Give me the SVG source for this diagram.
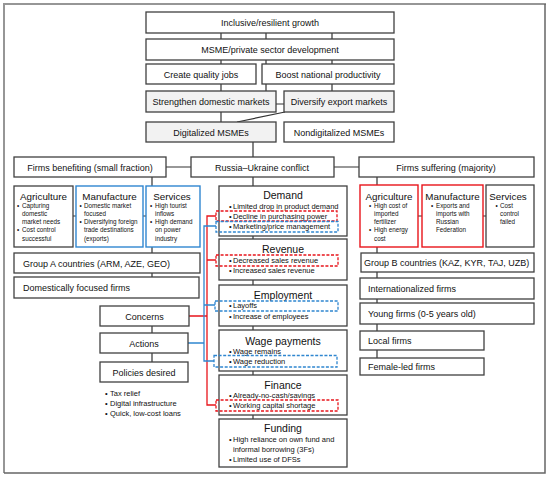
<svg xmlns="http://www.w3.org/2000/svg" width="550" height="477" viewBox="0 0 550 477">
<style>
.b{fill:#fff;stroke:#404040;stroke-width:1.3}
.g{fill:#f2f2f2;stroke:#404040;stroke-width:1.3}
.bl{fill:#fff;stroke:#2f86d0;stroke-width:1.4}
.rd{fill:#fff;stroke:#e8141b;stroke-width:1.4}
.dr{fill:none;stroke:#e8141b;stroke-width:1.3;stroke-dasharray:3 1.6}
.db{fill:none;stroke:#2f86d0;stroke-width:1.3;stroke-dasharray:3 1.6}
text{font-family:"Liberation Sans",Arial,sans-serif;fill:#111}
.t{font-size:9px;text-anchor:middle}
.tl{font-size:9px}
.h{font-size:9.8px;text-anchor:middle}
.hc{font-size:10.5px;text-anchor:middle}
.s{font-size:7.5px}
.xs{font-size:6.3px}
.k{stroke:#333;stroke-width:1.2;fill:none}
.kr{stroke:#e8141b;stroke-width:1.3;fill:none}
.kb{stroke:#2f86d0;stroke-width:1.3;fill:none}
</style>
<path d="M4 473V4H546" fill="none" stroke="#969696" stroke-width="2"/>
<path d="M4 473H545V4" fill="none" stroke="#666" stroke-width="1.5"/>
<g id="connectors">
<path class="k" d="M221 33V39M266 33V39M332 33V39M221 60V64M266 60V64M332 60V64M221 84V91M266 84V91M332 84V91M276 104H284M285 112L237 122M221 112V122M253 142V157M166 167H191M334 167H359"/>
<path class="k" d="M253 177V186M253 236V239M253 280V285M253 326V330M253 371V375M253 415V419"/>
<path class="k" d="M152 177V186M152 247V253M152 273V277M73 216H76M143 216H146"/>
<path class="k" d="M377 177V185M377 247V253M377 272V278M377 299V303M377 324V331M377 350V358M418 216H422M483 216H486"/>
<path class="k" d="M152 326V333M152 353V362"/>
<path class="kr" d="M189 316H207M216 216H207V405H216M207 260H216"/>
<path class="kb" d="M188 343H204M216 226H204V361H214M204 305H215"/>
</g>
<g id="growth"><rect class="b" x="146" y="12" width="248" height="21"/><text class="t" x="270" y="26">Inclusive/resilient growth</text></g>
<g id="msme"><rect class="b" x="146" y="39" width="248" height="21"/><text class="t" x="270" y="53">MSME/private sector development</text></g>
<g id="jobs"><rect class="b" x="146" y="64" width="110" height="20"/><text class="t" x="201" y="77.5">Create quality jobs</text></g>
<g id="productivity"><rect class="b" x="262" y="64" width="132" height="20"/><text class="t" x="328" y="77.5">Boost national productivity</text></g>
<g id="domestic"><rect class="g" x="146" y="91" width="130" height="21"/><text class="t" x="211" y="105">Strengthen domestic markets</text></g>
<g id="export"><rect class="g" x="284" y="91" width="110" height="21"/><text class="t" x="339" y="105">Diversify export markets</text></g>
<g id="digital"><rect class="g" x="146" y="122" width="130" height="20"/><text class="t" x="211" y="135.5">Digitalized MSMEs</text></g>
<g id="nondigital"><rect class="b" x="284" y="122" width="110" height="20"/><text class="t" x="339" y="135.5">Nondigitalized MSMEs</text></g>
<g id="conflict"><rect class="b" x="191" y="157" width="143" height="20"/><text class="t" x="262" y="170.5">Russia–Ukraine conflict</text></g>
<g id="benefiting"><rect class="b" x="14" y="157" width="152" height="20"/><text class="t" x="90" y="170.5">Firms benefiting (small fraction)</text></g>
<g id="suffering"><rect class="b" x="359" y="157" width="175" height="20"/><text class="t" x="446" y="170.5">Firms suffering (majority)</text></g>
<g id="agriA"><rect class="b" x="14" y="186" width="59" height="61"/><text class="h" x="43.5" y="199.5">Agriculture</text>
<text class="xs"><tspan x="17" y="207.5">•</tspan><tspan x="22" y="207.5">Capturing</tspan><tspan x="22" y="215.5">domestic</tspan><tspan x="22" y="224">market needs</tspan><tspan x="17" y="232">•</tspan><tspan x="22" y="232">Cost control</tspan><tspan x="22" y="240.5">successful</tspan></text></g>
<g id="manuA"><rect class="bl" x="76" y="186" width="67" height="61"/><text class="h" x="109.5" y="199.5">Manufacture</text>
<text class="xs"><tspan x="79.5" y="207.5">•</tspan><tspan x="84" y="207.5">Domestic market</tspan><tspan x="84" y="215.5">focused</tspan><tspan x="79.5" y="224">•</tspan><tspan x="84" y="224">Diversifying foreign</tspan><tspan x="84" y="232">trade destinations</tspan><tspan x="84" y="240.5">(exports)</tspan></text></g>
<g id="servA"><rect class="bl" x="146" y="186" width="54" height="61"/><text class="h" x="172" y="199.5">Services</text>
<text class="xs"><tspan x="150" y="207.5">•</tspan><tspan x="155" y="207.5">High tourist</tspan><tspan x="155" y="215.5">inflows</tspan><tspan x="150" y="224">•</tspan><tspan x="155" y="224">High demand</tspan><tspan x="155" y="232">on power</tspan><tspan x="155" y="240.5">industry</tspan></text></g>
<g id="groupA"><rect class="b" x="14" y="253" width="186" height="20"/><text class="tl" x="23" y="266.5">Group A countries (ARM, AZE, GEO)</text></g>
<g id="domfirms"><rect class="b" x="14" y="277" width="185" height="21"/><text class="tl" x="23" y="291">Domestically focused firms</text></g>
<g id="agriB"><rect class="rd" x="360" y="185" width="58" height="62"/><text class="h" x="389" y="199.5">Agriculture</text>
<text class="xs"><tspan x="369" y="207.5">•</tspan><tspan x="374" y="207.5">High cost of</tspan><tspan x="374" y="215.5">imported</tspan><tspan x="374" y="224">fertilizer</tspan><tspan x="369" y="232">•</tspan><tspan x="374" y="232">High energy</tspan><tspan x="374" y="240.5">cost</tspan></text></g>
<g id="manuB"><rect class="rd" x="422" y="185" width="61" height="62"/><text class="h" x="452.5" y="199.5">Manufacture</text>
<text class="xs"><tspan x="431" y="207.5">•</tspan><tspan x="436" y="207.5">Exports and</tspan><tspan x="436" y="215.5">imports with</tspan><tspan x="436" y="224">Russian</tspan><tspan x="436" y="232">Federation</tspan></text></g>
<g id="servB"><rect class="b" x="486" y="185" width="48" height="62"/><text class="h" x="508" y="199.5">Services</text>
<text class="xs"><tspan x="495.5" y="207.5">•</tspan><tspan x="500" y="207.5">Cost</tspan><tspan x="500" y="215.5">control</tspan><tspan x="500" y="224">failed</tspan></text></g>
<g id="groupB"><rect class="b" x="361" y="253" width="173" height="19"/><text class="tl" x="364" y="266">Group B countries (KAZ, KYR, TAJ, UZB)</text></g>
<g id="intl"><rect class="b" x="360" y="278" width="174" height="21"/><text class="tl" x="368" y="292">Internationalized firms</text></g>
<g id="young"><rect class="b" x="360" y="303" width="174" height="21"/><text class="tl" x="368" y="317">Young firms (0-5 years old)</text></g>
<g id="local"><rect class="b" x="360" y="331" width="124" height="19"/><text class="tl" x="368" y="344">Local firms</text></g>
<g id="female"><rect class="b" x="360" y="358" width="124" height="17"/><text class="tl" x="368" y="370">Female-led firms</text></g>
<g id="demand"><rect class="b" x="219" y="186" width="128" height="50"/><text class="hc" x="283" y="199">Demand</text>
<text class="s"><tspan x="229" y="208.5">•</tspan><tspan x="233" y="208.5">Limited drop in product demand</tspan><tspan x="229" y="218.5">•</tspan><tspan x="233" y="218.5">Decline in purchasing power</tspan><tspan x="229" y="228.5">•</tspan><tspan x="233" y="228.5">Marketing/price management</tspan></text>
<rect class="dr" x="216" y="211" width="121" height="10"/><rect class="db" x="216" y="221.5" width="122" height="10.5"/></g>
<g id="revenue"><rect class="b" x="219" y="239" width="128" height="41"/><text class="hc" x="283" y="252.5">Revenue</text>
<text class="s"><tspan x="229" y="262.5">•</tspan><tspan x="233" y="262.5">Decreased sales revenue</tspan><tspan x="229" y="272.5">•</tspan><tspan x="233" y="272.5">Increased sales revenue</tspan></text>
<rect class="dr" x="216" y="255" width="122" height="11"/></g>
<g id="employment"><rect class="b" x="219" y="285" width="128" height="41"/><text class="hc" x="283" y="298.5">Employment</text>
<text class="s"><tspan x="229" y="307.5">•</tspan><tspan x="233" y="307.5">Layoffs</tspan><tspan x="229" y="318.5">•</tspan><tspan x="233" y="318.5">Increase of employees</tspan></text>
<rect class="db" x="215" y="301" width="123" height="10"/></g>
<g id="wage"><rect class="b" x="219" y="330" width="128" height="41"/><text class="hc" x="283" y="344.5">Wage payments</text>
<text class="s"><tspan x="229" y="353.5">•</tspan><tspan x="233" y="353.5">Wage remains</tspan><tspan x="229" y="363.5">•</tspan><tspan x="233" y="363.5">Wage reduction</tspan></text>
<rect class="db" x="214" y="355.5" width="123" height="11.5"/></g>
<g id="finance"><rect class="b" x="219" y="375" width="128" height="40"/><text class="hc" x="283" y="389">Finance</text>
<text class="s"><tspan x="229" y="397.5">•</tspan><tspan x="233" y="397.5">Already-no-cash/savings</tspan><tspan x="229" y="407.5">•</tspan><tspan x="233" y="407.5">Working capital shortage</tspan></text>
<rect class="dr" x="216" y="400" width="122" height="11"/></g>
<g id="funding"><rect class="b" x="219" y="419" width="128" height="48"/><text class="hc" x="283" y="432">Funding</text>
<text class="s"><tspan x="229" y="441.5">•</tspan><tspan x="233" y="441.5">High reliance on own fund and</tspan><tspan x="233" y="451.5">informal borrowing (3Fs)</tspan><tspan x="229" y="462">•</tspan><tspan x="233" y="462">Limited use of DFSs</tspan></text></g>
<g id="concerns"><rect class="b" x="100" y="306" width="89" height="20"/><text class="t" x="144.5" y="319.5">Concerns</text></g>
<g id="actions"><rect class="b" x="100" y="333" width="88" height="20"/><text class="t" x="144" y="346.5">Actions</text></g>
<g id="policies"><rect class="b" x="100" y="362" width="88" height="20"/><text class="t" x="144" y="375.5">Policies desired</text>
<text class="s"><tspan x="105" y="395.5">•</tspan><tspan x="110" y="395.5">Tax relief</tspan><tspan x="105" y="405.5">•</tspan><tspan x="110" y="405.5">Digital infrastructure</tspan><tspan x="105" y="415.5">•</tspan><tspan x="110" y="415.5">Quick, low-cost loans</tspan></text></g>
</svg>
